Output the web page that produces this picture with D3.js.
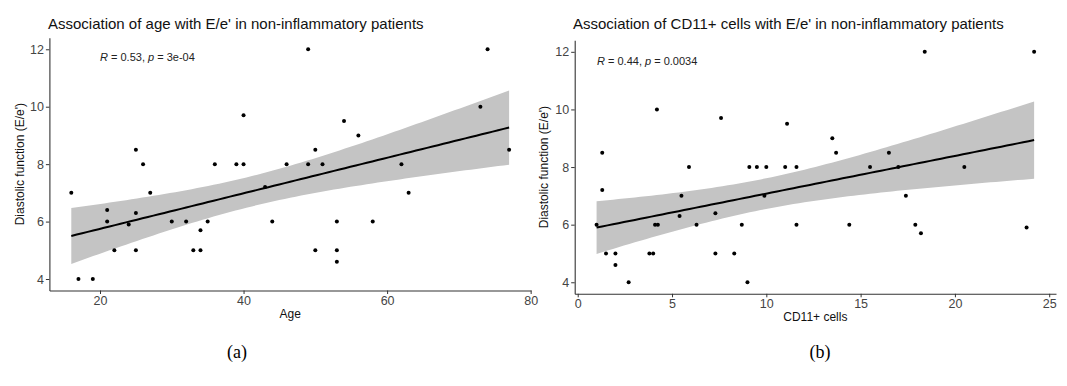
<!DOCTYPE html>
<head>
  <meta charset="utf-8">
  <script src="https://d3js.org/d3.v7.min.js"></script>
  <style>
    body { margin: 0; background: #fff; font-family: "Liberation Sans", Arial, sans-serif; }
    .tick text { fill: #444; font-size: 12.5px; }
    .tick line { stroke: #333; }
    .domain { stroke: #333; stroke-width: 1.1px; }
    .title { font-size: 15px; fill: #111; }
    .axis-title { font-size: 12px; fill: #111; }
    .stat { font-size: 11px; fill: #222; }
    .band { fill: #c4c4c4; }
    .fit { fill: none; stroke: #000; stroke-width: 2px; }
    .dot { fill: #000; }
    .caption { font-family: "Liberation Serif", "Times New Roman", serif; font-size: 18px; fill: #000; }
  </style>
</head>
<body>
  <script>
    // panel (a): age vs E/e'
    var age = [16, 17, 19, 21, 21, 22, 24, 25, 25, 25, 26, 27, 30, 32, 33, 34, 34, 35, 36, 39,
               40, 40, 43, 44, 46, 49, 49, 50, 50, 51, 53, 53, 53, 54, 56, 58, 62, 63, 73, 74, 77];
    var ageEe = [7, 4, 4, 6.4, 6, 5, 5.9, 8.5, 6.3, 5, 8, 7, 6, 6, 5, 5.7, 5, 6, 8, 8,
                 9.7, 8, 7.2, 6, 8, 12, 8, 8.5, 5, 8, 6, 5, 4.6, 9.5, 9, 6, 8, 7, 10, 12, 8.5];

    // panel (b): CD11+ cells vs E/e'
    var cd11 = [1.0, 1.3, 1.3, 1.5, 2.0, 2.0, 2.7, 3.8, 4.0, 4.1, 4.25, 4.2, 5.4, 5.5, 5.9, 6.3,
                7.3, 7.3, 7.6, 8.3, 8.7, 9.0, 9.1, 9.5, 9.9, 10.0, 11.0, 11.1, 11.6, 11.6, 13.5,
                13.7, 14.4, 15.5, 16.5, 17.0, 17.4, 17.9, 18.2, 18.4, 20.5, 23.8, 24.2];
    var cd11Ee = [6, 8.5, 7.2, 5, 5, 4.6, 4, 5, 5, 6, 6, 10, 6.3, 7, 8, 6,
                  6.4, 5, 9.7, 5, 6, 4, 8, 8, 7, 8, 8, 9.5, 8, 6, 9,
                  8.5, 6, 8, 8.5, 8, 7, 6, 5.7, 12, 8, 5.9, 12];

    var yTicks = [4, 6, 8, 10, 12];
    var ageTicks = [20, 40, 60, 80];
    var cd11Ticks = [0, 5, 10, 15, 20, 25];

    var tCrit = 2.02; // t(0.975, ~40 df)

    var svg = d3.select("body").append("svg")
      .attr("width", 1067)
      .attr("height", 386);

    // ggplot style 5% expansion
    function expand(ext) {
      var pad = (ext[1] - ext[0]) * 0.05;
      return [ext[0] - pad, ext[1] + pad];
    }

    function lm(xs, ys) {
      var n = xs.length,
          mx = d3.mean(xs), my = d3.mean(ys),
          sxx = d3.sum(xs, function(x) { return (x - mx) * (x - mx); }),
          sxy = d3.sum(xs, function(x, i) { return (x - mx) * (ys[i] - my); });
      var b = sxy / sxx, a = my - b * mx;
      var sse = d3.sum(xs, function(x, i) { var r = ys[i] - a - b * x; return r * r; });
      var s = Math.sqrt(sse / (n - 2));
      return function(x0) {
        var fit = a + b * x0,
            se = s * Math.sqrt(1 / n + (x0 - mx) * (x0 - mx) / sxx);
        return { x: x0, fit: fit, lo: fit - tCrit * se, hi: fit + tCrit * se };
      };
    }

    function panel(opt) {
      var x = d3.scaleLinear().domain(expand(d3.extent(opt.xs))).range(opt.xRange);
      var y = d3.scaleLinear().domain(expand([4, 12])).range(opt.yRange);
      var g = svg.append("g");

      // fit + confidence band
      var model = lm(opt.xs, opt.ys);
      var ext = d3.extent(opt.xs);
      var grid = d3.range(0, 81).map(function(i) { return model(ext[0] + (ext[1] - ext[0]) * i / 80); });

      g.append("path")
        .datum(grid)
        .attr("class", "band")
        .attr("d", d3.area()
          .x(function(d) { return x(d.x); })
          .y0(function(d) { return y(d.lo); })
          .y1(function(d) { return y(d.hi); }));

      g.append("path")
        .datum(grid)
        .attr("class", "fit")
        .attr("d", d3.line()
          .x(function(d) { return x(d.x); })
          .y(function(d) { return y(d.fit); }));

      g.selectAll(".dot")
        .data(opt.xs)
      .enter().append("circle")
        .attr("class", "dot")
        .attr("cx", function(d) { return x(d); })
        .attr("cy", function(d, i) { return y(opt.ys[i]); })
        .attr("r", 2);

      g.append("g")
        .attr("transform", "translate(" + opt.xRange[0] + ",0)")
        .call(d3.axisLeft(y).tickValues(yTicks).tickSize(3.5).tickSizeOuter(0).tickPadding(2));

      g.append("g")
        .attr("transform", "translate(0," + opt.yRange[0] + ")")
        .call(d3.axisBottom(x).tickValues(opt.xTicks).tickSize(3.5).tickSizeOuter(0).tickPadding(2));

      g.append("text")
        .attr("class", "title")
        .attr("x", opt.titleX)
        .attr("y", 29)
        .text(opt.title);

      g.append("text")
        .attr("class", "axis-title")
        .attr("transform", "translate(" + opt.yTitleX + "," + ((opt.yRange[0] + opt.yRange[1]) / 2) + ") rotate(-90)")
        .attr("text-anchor", "middle")
        .attr("dy", "0.35em")
        .text("Diastolic function (E/e')");

      g.append("text")
        .attr("class", "axis-title")
        .attr("x", (opt.xRange[0] + opt.xRange[1]) / 2)
        .attr("y", opt.yRange[0] + 27)
        .attr("text-anchor", "middle")
        .text(opt.xTitle);

      var stat = g.append("text")
        .attr("class", "stat")
        .attr("x", opt.statX)
        .attr("y", opt.statY);
      stat.append("tspan").style("font-style", "italic").text("R");
      stat.append("tspan").text(" = " + opt.r + ", ");
      stat.append("tspan").style("font-style", "italic").text("p");
      stat.append("tspan").text(" = " + opt.p);

      svg.append("text")
        .attr("class", "caption")
        .attr("x", opt.captionX)
        .attr("y", 358)
        .attr("text-anchor", "middle")
        .text(opt.caption);
    }

    panel({
      xs: age, ys: ageEe, xTicks: ageTicks,
      xRange: [49.4, 531], yRange: [290.5, 37.8],
      title: "Association of age with E/e' in non-inflammatory patients", titleX: 48,
      xTitle: "Age", yTitleX: 20,
      r: "0.53", p: "3e-04", statX: 100, statY: 60.5,
      caption: "(a)", captionX: 237
    });

    panel({
      xs: cd11, ys: cd11Ee, xTicks: cd11Ticks,
      xRange: [574.7, 1056], yRange: [293.8, 40.3],
      title: "Association of CD11+ cells with E/e' in non-inflammatory patients", titleX: 573,
      xTitle: "CD11+ cells", yTitleX: 544,
      r: "0.44", p: "0.0034", statX: 597, statY: 64.5,
      caption: "(b)", captionX: 820
    });
  </script>
</body>
